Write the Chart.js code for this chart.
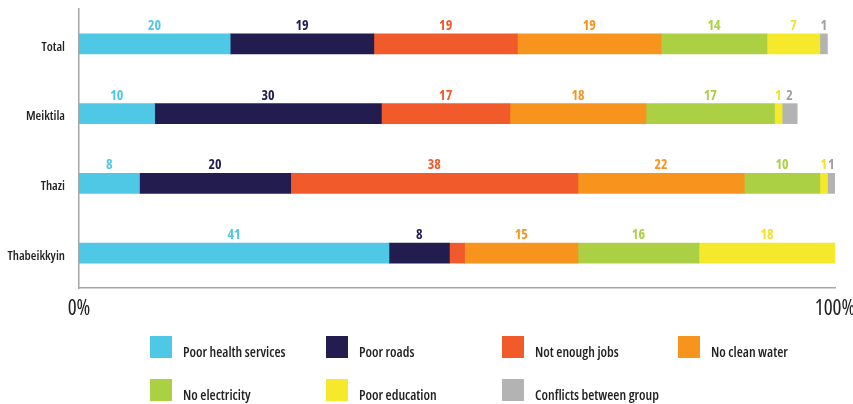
<!DOCTYPE html>
<html>
<head>
<meta charset="utf-8">
<script src="https://cdn.jsdelivr.net/npm/chart.js@4/dist/chart.umd.min.js"></script>
<style>
  html, body { margin: 0; padding: 0; background: #fff; }
  #wrap { position: relative; width: 853px; height: 404px; overflow: hidden; }
  #chartBox { position: absolute; left: 0; top: 0; width: 853px; height: 404px; }
  #legend { position: absolute; left: 0; top: 0; width: 853px; height: 404px; pointer-events: none;
            font-family: 'Open Sans', sans-serif; font-stretch: condensed; }
  .lg-item { position: absolute; height: 22px; white-space: nowrap; }
  .lg-box { position: absolute; left: 0; top: 0; width: 22px; height: 22px; }
  .lg-text { position: absolute; left: 33px; top: 8px; font-size: 14px; font-weight: 600; color: #222; line-height: 16px; }
</style>
</head>
<body>
<div id="wrap">
  <div id="chartBox"><canvas id="c"></canvas></div>
  <div id="legend"></div>
</div>
<script>
// ---- data ----
const categories = ['Total', 'Meiktila', 'Thazi', 'Thabeikkyin'];
const seriesNames = ['Poor health services', 'Poor roads', 'Not enough jobs', 'No clean water',
                     'No electricity', 'Poor education', 'Conflicts between group'];
const poorHealthServices = [20, 10, 8, 41];
const poorRoads          = [19, 30, 20, 8];
const notEnoughJobs      = [19, 17, 38, 2];
const noCleanWater       = [19, 18, 22, 15];
const noElectricity      = [14, 17, 10, 16];
const poorEducation      = [7, 1, 1, 18];
const conflictsBetween   = [1, 2, 1, 0];
const xTickLabels = ['0%', '100%'];
// segments whose value label is not printed in the original: [seriesIndex, categoryIndex]
const unlabeledSegments = [[2, 3]];

// ---- styles ----
const seriesColors = ['#4ec8e4', '#231c4f', '#f15a2a', '#f7941e', '#acd044', '#f6e92c', '#b3b3b3'];
const labelColors  = ['#4ec8e4', '#231c4f', '#f15a2a', '#f7941e', '#acd044', '#f2e02a', '#a0a0a0'];
const FAMILY = "'Open Sans', sans-serif";

const seriesValues = [poorHealthServices, poorRoads, notEnoughJobs, noCleanWater,
                      noElectricity, poorEducation, conflictsBetween];

const datasets = seriesNames.map((name, i) => ({
  label: name,
  data: seriesValues[i],
  backgroundColor: seriesColors[i],
  borderWidth: 0,
  barThickness: 20
}));

const valueLabels = {
  id: 'valueLabels',
  afterDatasetsDraw(chart) {
    const ctx = chart.ctx;
    ctx.save();
    ctx.font = "700 condensed 14px " + FAMILY;
    ctx.textAlign = 'center';
    ctx.textBaseline = 'alphabetic';
    chart.data.datasets.forEach((ds, di) => {
      const meta = chart.getDatasetMeta(di);
      meta.data.forEach((bar, ci) => {
        const v = ds.data[ci];
        if (!v) return;
        if (unlabeledSegments.some(p => p[0] === di && p[1] === ci)) return;
        const props = bar.getProps(['x', 'y', 'base', 'height'], true);
        const cx = (props.x + props.base) / 2;
        const top = props.y - props.height / 2;
        ctx.fillStyle = labelColors[di];
        ctx.fillText(String(v), cx, top - 4);
      });
    });
    ctx.restore();
  }
};

const chart = new Chart(document.getElementById('c'), {
  type: 'bar',
  data: { labels: categories, datasets },
  options: {
    indexAxis: 'y',
    responsive: true,
    maintainAspectRatio: false,
    animation: false,
    layout: { padding: { top: 9, right: 18, bottom: 76, left: 0 } },
    plugins: { legend: { display: false }, tooltip: { enabled: false } },
    scales: {
      x: {
        stacked: true,
        min: 0, max: 100,
        grid: { display: false, drawTicks: false },
        border: { display: true, color: '#a6a6a6', width: 1.5 },
        ticks: {
          stepSize: 100,
          padding: 8,
          color: '#222',
          maxRotation: 0,
          font: { family: FAMILY, size: 21, weight: 'condensed' },
          callback: (v) => xTickLabels[v / 100]
        },
        afterFit: (s) => { s.height = 40; s.paddingLeft = 0; s.paddingRight = 0; }
      },
      y: {
        stacked: true,
        grid: { display: false, drawTicks: false },
        border: { display: true, color: '#a6a6a6', width: 1.5 },
        ticks: { padding: 14, labelOffset: 3, color: '#222', font: { family: FAMILY, size: 13, weight: '600 condensed' } },
        afterFit: (s) => { s.width = 79; s.paddingTop = 0; s.paddingBottom = 0; }
      }
    }
  },
  plugins: [valueLabels]
});

// ---- HTML legend built from the chart's datasets (4 columns x 2 rows) ----
const legendEl = document.getElementById('legend');
chart.data.datasets.forEach((ds, i) => {
  const col = i % 4, row = Math.floor(i / 4);
  const item = document.createElement('div');
  item.className = 'lg-item';
  item.style.left = (150 + col * 176) + 'px';
  item.style.top = (336 + row * 43) + 'px';
  const box = document.createElement('div');
  box.className = 'lg-box';
  box.style.background = ds.backgroundColor;
  const txt = document.createElement('div');
  txt.className = 'lg-text';
  txt.textContent = ds.label;
  item.appendChild(box); item.appendChild(txt);
  legendEl.appendChild(item);
});
</script>
</body>
</html>
